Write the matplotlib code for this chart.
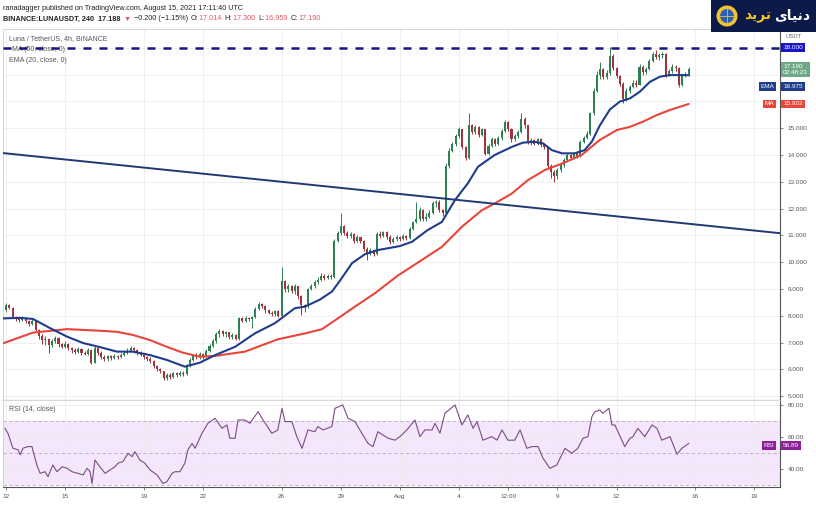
import matplotlib
matplotlib.use('Agg')
import matplotlib.pyplot as plt
import matplotlib.transforms as mtransforms
from matplotlib.patches import Rectangle, Circle
import numpy as np

plt.rcParams['font.family'] = ['Liberation Sans', 'DejaVu Sans']

# 4h candles of LUNA/USDT, bar 0 = 12 Jul 2021 00:00 UTC
closes = [8.40, 8.30, 7.95, 7.90, 7.85, 7.92, 7.80, 7.70, 7.80, 7.45,
          7.25, 7.10, 7.15, 6.90, 7.05, 7.18, 6.95, 6.85, 6.95, 6.80,
          6.72, 6.65, 6.75, 6.62, 6.58, 6.72, 6.25, 6.80, 6.62, 6.45,
          6.38, 6.48, 6.42, 6.50, 6.45, 6.55, 6.62, 6.70, 6.80, 6.72,
          6.62, 6.55, 6.45, 6.40, 6.30, 6.12, 6.00, 5.92, 5.68, 5.78,
          5.72, 5.85, 5.80, 5.88, 5.82, 6.15, 6.35, 6.52, 6.45, 6.58,
          6.48, 6.70, 6.88, 7.05, 7.30, 7.42, 7.30, 7.38, 7.22, 7.28,
          7.12, 7.90, 7.82, 7.92, 7.88, 7.95, 8.25, 8.45, 8.35, 8.20,
          8.12, 8.05, 8.18, 8.00, 9.30, 8.98, 9.10, 8.92, 9.12, 8.75,
          8.40, 8.35, 9.00, 9.10, 9.25, 9.35, 9.50, 9.42, 9.48, 9.45,
          10.80, 11.08, 11.35, 11.10, 10.98, 11.05, 10.80, 10.92, 10.78, 10.50,
          10.32, 10.45, 10.30, 11.05, 10.98, 11.12, 10.95, 10.75, 10.88, 10.95,
          10.85, 10.98, 10.90, 11.25, 11.48, 11.60, 11.95, 11.62, 11.70, 11.85,
          12.20, 12.25, 11.95, 11.85, 13.60, 14.15, 14.40, 14.72, 14.95, 14.30,
          13.90, 15.10, 14.85, 15.05, 14.75, 14.95, 14.05, 14.35, 14.60, 14.40,
          14.62, 14.90, 15.22, 14.95, 14.58, 14.70, 14.85, 15.35, 15.10, 14.45,
          14.55, 14.42, 14.58, 14.38, 14.30, 13.58, 13.35, 13.20, 13.45, 13.62,
          13.80, 14.00, 13.90, 14.05, 13.95, 14.50, 14.62, 14.80, 15.55, 16.40,
          17.00, 17.20, 16.90, 17.05, 17.70, 17.25, 16.95, 16.65, 16.10, 16.40,
          16.55, 16.70, 16.62, 17.30, 17.08, 17.22, 17.52, 17.78, 17.65, 17.72,
          17.78, 16.95, 17.12, 17.30, 17.25, 16.62, 16.95, 17.02, 17.19]
highs = [8.47, 8.45, 8.32, 8.00, 7.95, 7.98, 7.95, 7.84, 7.90, 7.85,
         7.50, 7.30, 7.25, 7.18, 7.15, 7.25, 7.20, 7.00, 7.05, 6.98,
         6.85, 6.78, 6.82, 6.78, 6.70, 6.80, 6.75, 6.88, 6.85, 6.68,
         6.52, 6.55, 6.52, 6.56, 6.55, 6.60, 6.70, 6.78, 6.88, 6.85,
         6.76, 6.68, 6.60, 6.50, 6.45, 6.35, 6.15, 6.05, 5.95, 5.85,
         5.85, 5.90, 5.90, 5.95, 5.92, 6.20, 6.42, 6.58, 6.62, 6.65,
         6.62, 6.76, 6.95, 7.12, 7.38, 7.50, 7.45, 7.44, 7.40, 7.35,
         7.32, 7.95, 7.95, 7.98, 7.96, 8.00, 8.32, 8.50, 8.48, 8.40,
         8.25, 8.18, 8.22, 8.20, 9.83, 9.35, 9.18, 9.15, 9.18, 9.12,
         8.78, 8.45, 9.05, 9.20, 9.32, 9.45, 9.58, 9.55, 9.55, 9.55,
         10.88, 11.15, 11.83, 11.40, 11.15, 11.12, 11.08, 11.00, 10.95, 10.82,
         10.55, 10.52, 10.50, 11.12, 11.15, 11.18, 11.15, 11.00, 10.95, 11.02,
         10.98, 11.05, 11.02, 11.32, 11.55, 12.25, 12.05, 11.98, 11.82, 11.95,
         12.28, 12.32, 12.30, 12.00, 13.70, 14.25, 14.50, 14.80, 15.05, 14.98,
         14.35, 15.56, 15.15, 15.12, 15.08, 15.02, 14.98, 14.42, 14.68, 14.65,
         14.70, 14.98, 15.30, 15.25, 15.00, 14.78, 14.92, 15.55, 15.40, 15.12,
         14.62, 14.60, 14.65, 14.62, 14.45, 14.32, 13.65, 13.42, 13.52, 13.70,
         13.88, 14.08, 14.05, 14.12, 14.15, 14.56, 14.70, 14.88, 15.62, 16.50,
         17.15, 17.48, 17.25, 17.18, 18.04, 17.75, 17.30, 17.00, 16.72, 16.50,
         16.62, 16.78, 16.80, 17.38, 17.35, 17.30, 17.58, 17.85, 17.91, 17.80,
         17.85, 17.80, 17.22, 17.38, 17.35, 17.28, 17.02, 17.10, 17.30]
lows = [8.15, 8.25, 7.90, 7.82, 7.75, 7.80, 7.72, 7.62, 7.66, 7.40,
        7.15, 6.95, 6.90, 6.60, 6.85, 7.00, 6.85, 6.78, 6.80, 6.72,
        6.62, 6.58, 6.62, 6.55, 6.52, 6.55, 6.18, 6.22, 6.55, 6.40,
        6.30, 6.32, 6.36, 6.38, 6.40, 6.42, 6.50, 6.58, 6.65, 6.62,
        6.55, 6.48, 6.38, 6.30, 6.22, 6.05, 5.92, 5.85, 5.60, 5.62,
        5.65, 5.68, 5.72, 5.75, 5.75, 5.80, 6.10, 6.30, 6.40, 6.40,
        6.40, 6.45, 6.65, 6.82, 7.00, 7.22, 7.25, 7.22, 7.15, 7.12,
        7.08, 7.08, 7.75, 7.78, 7.80, 7.55, 7.90, 8.20, 8.28, 8.12,
        8.05, 7.98, 8.00, 7.95, 8.00, 8.90, 8.90, 8.85, 8.80, 8.62,
        8.03, 8.15, 8.30, 8.95, 9.05, 9.20, 9.30, 9.35, 9.36, 9.38,
        9.42, 10.75, 11.00, 11.02, 10.90, 10.90, 10.72, 10.75, 10.70, 10.42,
        10.08, 10.25, 10.22, 10.28, 10.90, 10.92, 10.88, 10.68, 10.70, 10.80,
        10.78, 10.82, 10.84, 10.88, 11.20, 11.45, 11.55, 11.55, 11.55, 11.65,
        11.80, 12.05, 11.88, 11.72, 11.80, 13.50, 14.10, 14.35, 14.65, 14.22,
        13.82, 13.85, 14.78, 14.80, 14.68, 14.70, 13.98, 14.00, 14.30, 14.32,
        14.38, 14.55, 14.85, 14.88, 14.50, 14.52, 14.65, 14.82, 15.02, 14.40,
        14.38, 14.36, 14.38, 14.30, 14.22, 13.50, 13.15, 13.00, 13.10, 13.35,
        13.55, 13.75, 13.82, 13.85, 13.88, 13.92, 14.45, 14.58, 14.75, 15.50,
        16.35, 16.85, 16.82, 16.85, 17.00, 17.18, 16.88, 16.58, 15.93, 16.02,
        16.30, 16.50, 16.55, 16.60, 17.00, 17.02, 17.18, 17.45, 17.58, 17.55,
        17.62, 16.90, 16.95, 17.05, 17.15, 16.55, 16.58, 16.90, 16.96]
first_open = 8.20
last_open = 17.014

# EMA(20) and MA(50) at these bars
ema_bar = [-0.9, 4.3, 8.2, 13.4, 18.6, 23.5, 28.6, 33.8, 38.7, 43.9, 49.0, 54.5, 59.1,
           63.7, 69.8, 75.8, 81.9, 88.0, 91.1, 95.6, 99.3, 101.7, 105.4, 109.4, 113.3,
           120.0, 123.7, 128.5, 132.8, 136.8, 140.7, 143.8, 148.9, 154.1, 157.5, 161.1,
           163.6, 166.3, 169.4, 173.3, 176.3, 178.5, 180.9, 184.0, 187.0, 190.1, 193.1,
           196.2, 199.2, 202.3, 205.3, 208.0]
ema_val = [7.90, 7.92, 7.88, 7.54, 7.22, 6.98, 6.83, 6.66, 6.66, 6.53, 6.35, 6.10, 6.25,
           6.53, 6.84, 7.34, 7.72, 8.28, 8.34, 8.60, 8.90, 9.30, 9.96, 10.30, 10.45,
           10.60, 10.76, 11.20, 11.50, 12.32, 12.94, 13.56, 14.00, 14.30, 14.46, 14.49,
           14.43, 14.18, 14.06, 14.06, 14.18, 14.50, 15.10, 15.70, 15.99, 16.11, 16.36,
           16.73, 16.92, 16.98, 16.98, 16.975]
ma_bar = [-0.9, 8.2, 18.6, 28.6, 33.8, 38.7, 43.9, 49.0, 53.9, 59.1, 63.7, 72.8, 82.8,
          91.1, 96.3, 101.1, 106.3, 112.4, 119.4, 126.7, 132.8, 138.9, 145.0, 148.9,
          154.1, 159.0, 164.2, 169.4, 175.4, 180.9, 186.1, 190.1, 194.0, 198.3, 202.3, 208.0]
ma_val = [6.97, 7.37, 7.50, 7.44, 7.40, 7.28, 7.09, 6.84, 6.62, 6.47, 6.50, 6.66, 7.12,
          7.34, 7.50, 7.90, 8.34, 8.84, 9.50, 10.08, 10.57, 11.32, 11.94, 12.19,
          12.56, 13.06, 13.44, 13.68, 14.00, 14.56, 14.93, 15.05, 15.24, 15.49, 15.68, 15.902]

# RSI(14)
rsi_bar = [-0.3, 0.6, 2.1, 3.7, 4.3, 5.2, 6.7, 7.9, 9.4, 10.4, 11.9, 12.8, 14.3, 15.5,
           17.1, 18.6, 20.1, 21.9, 23.5, 24.7, 25.6, 26.2, 27.1, 28.6, 30.2, 31.7, 33.2,
           34.1, 35.6, 37.2, 38.4, 39.3, 40.8, 42.3, 43.9, 46.0, 47.8, 49.0, 50.6, 51.5,
           53.0, 54.5, 55.4, 56.7, 57.6, 59.7, 61.5, 63.7, 65.8, 67.3, 68.2, 69.8, 70.7,
           72.8, 74.3, 76.8, 78.3, 81.0, 82.8, 84.1, 85.0, 87.1, 88.6, 90.2, 92.0, 94.1,
           95.0, 96.6, 99.3, 100.2, 102.6, 104.2, 106.3, 108.4, 110.3, 111.8, 113.3,
           116.4, 118.5, 120.0, 122.1, 124.6, 126.1, 127.6, 129.8, 130.7, 132.2, 133.7,
           136.8, 138.9, 140.7, 142.3, 143.5, 145.3, 148.0, 149.6, 151.1, 152.9, 155.0,
           156.6, 158.7, 160.2, 162.1, 163.6, 165.7, 167.8, 170.3, 172.4, 174.2, 175.8,
           177.3, 178.5, 179.4, 180.9, 181.8, 183.7, 184.6, 185.5, 188.5, 190.1, 191.0,
           192.5, 194.6, 196.8, 198.3, 199.8, 202.3, 204.4, 205.9, 208.0]
rsi_val = [65.4, 62.3, 53.0, 52.0, 48.8, 53.0, 54.0, 54.0, 42.5, 37.3, 38.3, 35.2, 42.5, 38.3,
           41.4, 40.4, 38.3, 37.3, 36.3, 40.4, 38.3, 31.0, 45.6, 41.4, 37.3, 39.4, 41.4,
           43.6, 44.6, 49.8, 47.7, 50.8, 45.6, 43.6, 39.4, 36.3, 31.0, 32.0, 37.3, 38.3,
           38.3, 43.6, 51.9, 56.0, 52.9, 62.3, 68.5, 71.7, 65.4, 67.5, 59.2, 59.2, 70.6,
           70.6, 68.5, 75.8, 70.6, 62.3, 64.4, 77.9, 69.6, 69.6, 60.2, 52.9, 64.4, 63.3,
           66.5, 64.4, 66.5, 77.9, 80.0, 71.7, 69.6, 62.3, 56.0, 54.0, 63.3,
           59.2, 58.0, 60.2, 64.4, 70.6, 60.2, 64.4, 64.4, 68.5, 62.3, 74.8,
           80.0, 67.5, 73.8, 65.4, 69.6, 58.0, 60.2, 58.0, 64.4, 58.0, 58.0,
           64.4, 52.9, 54.0, 54.0, 46.7, 40.4, 42.5, 52.9, 49.8, 52.9, 59.2,
           60.2, 72.7, 75.8, 76.9, 74.8, 77.9, 67.5, 67.5, 54.0, 59.2, 60.2,
           65.4, 60.2, 67.5, 65.4, 58.0, 60.2, 49.2, 52.9, 56.0]
rsi_last = 56.89

trend_bar = [-0.9, 235.8]
trend_val = [14.07, 11.08]
resistance = 18.0

tick_days = [0, 3, 7, 10, 14, 17, 20, 23, 25.5, 28, 31, 35, 38]
tick_labels = ['12', '15', '19', '22', '26', '29', 'Aug', '4', '12:00', '9', '12', '16', '19']
price_ticks = list(range(5, 19))
hidden_price_ticks = [16, 17, 18]  # sit under the value tags on the price scale
rsi_ticks = [40, 60, 80]

GREEN = '#2f7f52'
RED = '#a3333a'
EMA_C = '#1f3d8c'
MA_C = '#e8463b'
GRID = '#ececec'

W, H = 816, 512
fig = plt.figure(figsize=(W / 100, H / 100), dpi=100)


def px_rect(x0, y0, x1, y1):
    return [x0 / W, 1 - y1 / H, (x1 - x0) / W, (y1 - y0) / H]


ax = fig.add_axes(px_rect(3, 29, 780, 400))
rax = fig.add_axes(px_rect(3, 400, 780, 487), sharex=ax)

# candles
closes = np.array(closes)
highs = np.array(highs)
lows = np.array(lows)
bars = np.arange(len(closes))
opens = np.r_[first_open, closes[:-1]]
opens[-1] = last_open
colors = np.where(closes >= opens, GREEN, RED)
ax.vlines(bars, lows, highs, colors=colors, lw=0.7, zorder=3)
ax.bar(bars, np.maximum(np.abs(closes - opens), 0.03), bottom=np.minimum(opens, closes),
       width=0.62, color=colors, linewidth=0, zorder=3)

ax.plot(ma_bar, ma_val, color=MA_C, lw=1.5, zorder=4, solid_capstyle='round')
ax.plot(ema_bar, ema_val, color=EMA_C, lw=1.5, zorder=5, solid_capstyle='round')
ax.plot(trend_bar, trend_val, color='#1e3a70', lw=1.4, zorder=4)
ax.axhline(resistance, color='#16167a', lw=1.8, ls=(0, (3.2, 3.2)), zorder=6)

ax.set_xlim(-0.91, 235.8)
ax.set_ylim(4.855, 18.70)
ax.yaxis.tick_right()
ax.set_yticks(price_ticks)
ax.set_yticklabels(['' if v in hidden_price_ticks else f'{v:.3f}' for v in price_ticks])
ax.set_xticks([d * 6 for d in tick_days])
ax.grid(True, color=GRID, lw=0.6, zorder=0)
ax.set_axisbelow(True)
ax.tick_params(axis='x', bottom=False, labelbottom=False)
ax.tick_params(axis='y', labelsize=4.6, colors='#555555', length=2.5, width=0.5, pad=3)

# RSI pane
rax.axhspan(30, 70, color='#f4e7fb', lw=0, zorder=0)
for lvl in (70, 50, 30):
    rax.axhline(lvl, color='#bba8c4', lw=0.6, ls=(0, (4, 3)), zorder=1)
rax.plot(rsi_bar, rsi_val, color='#7d4a88', lw=0.8, zorder=3)
rax.set_ylim(28.75, 83.1)
rax.yaxis.tick_right()
rax.set_yticks(rsi_ticks)
rax.set_yticklabels([f'{v:.2f}' for v in rsi_ticks])
rax.set_xticks([d * 6 for d in tick_days])
rax.set_xticklabels(tick_labels)
rax.grid(True, color=GRID, lw=0.6, zorder=0)
rax.set_axisbelow(True)
rax.tick_params(axis='y', labelsize=4.6, colors='#555555', length=2.5, width=0.5, pad=3)
rax.tick_params(axis='x', labelsize=4.6, colors='#555555', length=2, width=0.5, pad=3)

for a in (ax, rax):
    for side in ('top', 'left'):
        a.spines[side].set_color('#cfcfcf')
        a.spines[side].set_linewidth(0.6)
    for side in ('right', 'bottom'):
        a.spines[side].set_color('#555555')
        a.spines[side].set_linewidth(0.8)

# pane legends
ax.text(0.008, 0.983, 'Luna / TetherUS, 4h, BINANCE', transform=ax.transAxes,
        fontsize=5, color='#555555', va='top', zorder=2)
ax.text(0.011, 0.955, 'MA (50, close, 0)', transform=ax.transAxes,
        fontsize=5, color='#555555', va='top', zorder=2)
ax.text(0.008, 0.925, 'EMA (20, close, 0)', transform=ax.transAxes,
        fontsize=5, color='#555555', va='top', zorder=2)
rax.text(0.008, 0.93, 'RSI (14, close)', transform=rax.transAxes,
         fontsize=5, color='#555555', va='top', zorder=2)


# value tags on the price scales
def scale_label(a, value, text, fc, dy=0, va='center', left=None):
    tr = mtransforms.blended_transform_factory(a.transAxes, a.transData)
    a.annotate(text, xy=(1, value), xycoords=tr, xytext=(2.2, dy),
               textcoords='offset points', fontsize=4.6, color='white', va=va, ha='left',
               bbox=dict(boxstyle='square,pad=0.3', fc=fc, ec='none'),
               annotation_clip=False, zorder=10, linespacing=1.25)
    if left:
        a.annotate(left, xy=(1, value), xycoords=tr, xytext=(-4, dy),
                   textcoords='offset points', fontsize=4.6, color='white', va=va, ha='right',
                   bbox=dict(boxstyle='square,pad=0.3', fc=fc, ec='none'),
                   annotation_clip=False, zorder=10)


scale_label(ax, resistance, f'{resistance:.3f}', '#1717c9')
scale_label(ax, closes[-1], f'{closes[-1]:.3f}\n02:48:23', '#6fa886', dy=4, va='top')
scale_label(ax, ema_val[-1], f'{ema_val[-1]:.3f}', EMA_C, dy=-8, left='EMA')
scale_label(ax, ma_val[-1], f'{ma_val[-1]:.3f}', MA_C, left='MA')
scale_label(rax, rsi_last, f'{rsi_last:.2f}', '#8e1f9c', dy=-2.5, left='RSI')
fig.text(794 / W, 1 - 36 / H, 'USDT', fontsize=4.2, color='#666666', ha='center', va='center')

# header
fig.text(3 / W, 1 - 8 / H, 'ranadagger published on TradingView.com, August 15, 2021 17:11:40 UTC',
         fontsize=5.2, color='#222222', va='center')
DARK = '#222222'
PINK = '#e0575f'
pieces = [('BINANCE:LUNAUSDT, 240  17.188 ', DARK), ('\u25bc', PINK), (' \u22120.200 (\u22121.15%) ', DARK),
          ('O:', DARK), ('17.014 ', PINK), ('H:', DARK), ('17.300 ', PINK), ('L:', DARK),
          ('16.959 ', PINK), ('C:', DARK), ('17.190', PINK)]
renderer = fig.canvas.get_renderer()
x = 3
for s, c in pieces:
    t = fig.text(x / W, 1 - 19 / H, s, fontsize=5.2, color=c, va='center',
                 fontweight='bold' if c == DARK and s.startswith('BIN') else 'normal')
    x = t.get_window_extent(renderer=renderer).x1 + 1

# logo
lax = fig.add_axes([0, 0, 1, 1], zorder=20)
lax.set_xlim(0, W)
lax.set_ylim(H, 0)
lax.axis('off')
lax.patch.set_visible(False)
lax.add_patch(Rectangle((711, 0), 105, 32, fc='#0c1a4a', ec='none'))
lax.add_patch(Circle((727, 16), 10.5, fc='#f3c22e', ec='none'))
lax.add_patch(Circle((727, 16), 7.5, fc='#2a5fb8', ec='#f3c22e', lw=0.8))
lax.plot([720, 734], [16, 16], color='#f3c22e', lw=0.6)
lax.plot([727, 727], [9, 23], color='#f3c22e', lw=0.6)
lax.text(771, 16, '\ufeaa\ufef3\ufeae\ufe97', color='#f6c519', fontsize=10, fontweight='bold',
         family='DejaVu Sans', ha='right', va='center')
lax.text(774, 16, '\ufeef\ufe8e\ufef4\ufee7\ufea9', color='white', fontsize=10, fontweight='bold',
         family='DejaVu Sans', ha='left', va='center')

fig.savefig('out.png', dpi=100, facecolor='white')
